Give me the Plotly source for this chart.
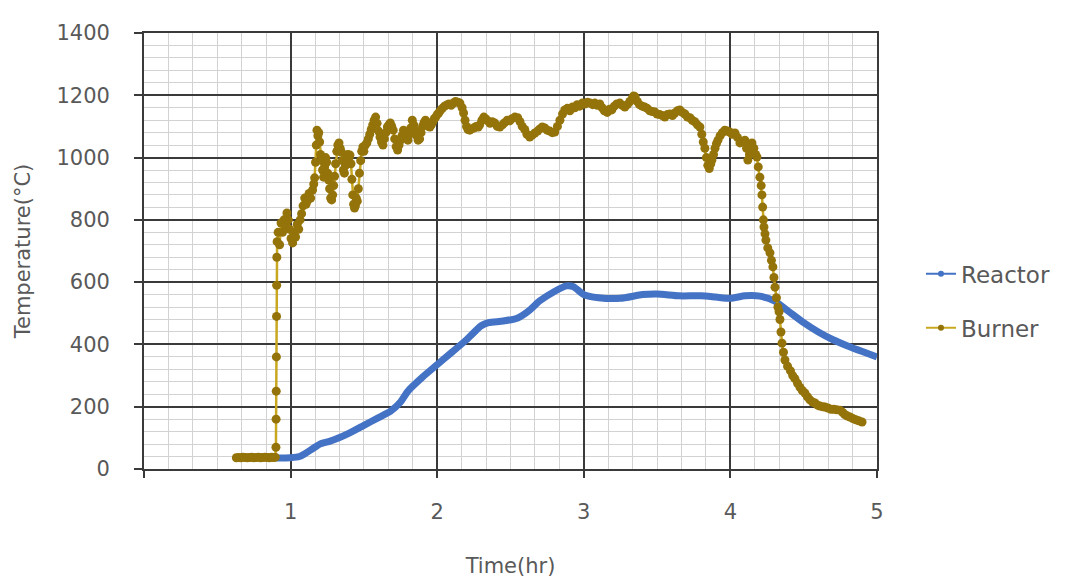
import plotly.graph_objects as go

# Reactor temperature (smooth profile)
reactor_time = [0.90, 1.00, 1.06, 1.10, 1.15, 1.20, 1.26, 1.33, 1.40, 1.50, 1.60, 1.68,
                1.75, 1.80, 1.90, 2.00, 2.10, 2.20, 2.30, 2.35, 2.45, 2.55, 2.63, 2.70,
                2.80, 2.88, 2.93, 3.00, 3.10, 3.25, 3.40, 3.50, 3.65, 3.80, 3.90, 4.00,
                4.10, 4.20, 4.30, 4.40, 4.50, 4.60, 4.70, 4.80, 4.90, 5.00]
reactor_temp = [35, 36, 40, 50, 65, 80, 88, 100, 115, 140, 165, 185,
                215, 250, 295, 335, 375, 415, 460, 470, 475, 485, 510, 540,
                570, 588, 585, 560, 550, 548, 560, 562, 556, 556, 552, 548,
                556, 555, 540, 505, 470, 440, 415, 395, 377, 360]

# Burner temperature (noisy logger readings)
burner_time = [
    0.630, 0.645, 0.660, 0.675, 0.690, 0.705, 0.720, 0.735, 0.750, 0.765, 0.780, 0.795,
    0.810, 0.825, 0.840, 0.855, 0.870, 0.885, 0.895,
    0.900, 0.901, 0.902, 0.903, 0.904, 0.905, 0.906, 0.908,
    0.915, 0.925, 0.935, 0.945, 0.955, 0.965, 0.975, 0.985, 0.993, 1.003, 1.014, 1.024,
    1.034, 1.045, 1.055, 1.065, 1.075, 1.085, 1.096, 1.105, 1.116, 1.126, 1.137, 1.150,
    1.158, 1.164, 1.170, 1.175, 1.180, 1.186, 1.192, 1.198, 1.204, 1.212, 1.218, 1.225,
    1.232, 1.239, 1.246, 1.253, 1.260, 1.266, 1.273, 1.280, 1.287, 1.294, 1.300, 1.307,
    1.315, 1.322, 1.330, 1.338, 1.346, 1.353, 1.360, 1.367, 1.375, 1.383, 1.390, 1.398,
    1.405, 1.412, 1.418, 1.424, 1.430, 1.436, 1.442, 1.448, 1.455, 1.462, 1.470, 1.478,
    1.485, 1.493, 1.500, 1.510, 1.520, 1.530, 1.540, 1.550, 1.560, 1.570, 1.580, 1.590,
    1.600, 1.610, 1.620, 1.630, 1.640, 1.650, 1.660, 1.670, 1.680, 1.690, 1.700, 1.710,
    1.720, 1.730, 1.740, 1.750, 1.760, 1.770, 1.780, 1.790, 1.800, 1.810, 1.820, 1.830,
    1.840, 1.850, 1.860, 1.870, 1.880, 1.890, 1.900, 1.910, 1.920, 1.930, 1.940, 1.950,
    1.960, 1.970, 1.980, 1.990, 2.000, 2.010, 2.020, 2.035, 2.050, 2.065, 2.080, 2.095,
    2.110, 2.125, 2.140, 2.155, 2.170, 2.180, 2.190, 2.200, 2.210, 2.222, 2.235, 2.250,
    2.265, 2.280, 2.290, 2.305, 2.318, 2.330, 2.345, 2.360, 2.375, 2.392, 2.410, 2.427,
    2.445, 2.460, 2.478, 2.495, 2.510, 2.530, 2.549, 2.565, 2.580, 2.597, 2.612, 2.631,
    2.648, 2.666, 2.685, 2.700, 2.717, 2.734, 2.750, 2.768, 2.785, 2.802, 2.820, 2.837,
    2.855, 2.870, 2.888, 2.905, 2.922, 2.939, 2.955, 2.972, 2.990, 3.007, 3.025, 3.042,
    3.060, 3.075, 3.092, 3.109, 3.125, 3.140, 3.160, 3.175, 3.191, 3.208, 3.225, 3.246,
    3.262, 3.280, 3.297, 3.314, 3.330, 3.340, 3.350, 3.365, 3.380, 3.398, 3.416, 3.432,
    3.450, 3.467, 3.485, 3.500, 3.518, 3.535, 3.553, 3.570, 3.587, 3.605, 3.621, 3.638,
    3.655, 3.672, 3.690, 3.707, 3.724, 3.740, 3.757, 3.775, 3.792, 3.805, 3.815, 3.826,
    3.836, 3.846, 3.856, 3.866, 3.874, 3.885, 3.895, 3.905, 3.915, 3.930, 3.945, 3.962,
    3.978, 3.995, 4.012, 4.031, 4.048, 4.065, 4.080, 4.099, 4.110, 4.119, 4.130, 4.140,
    4.147, 4.160, 4.172, 4.181, 4.190, 4.201, 4.210, 4.215, 4.220, 4.225, 4.229, 4.236,
    4.242, 4.255, 4.270, 4.280, 4.290, 4.297, 4.304, 4.314, 4.324, 4.332, 4.338, 4.345,
    4.352, 4.362, 4.372, 4.390, 4.410, 4.425, 4.440, 4.458, 4.475, 4.490, 4.508, 4.525,
    4.542, 4.560, 4.577, 4.595, 4.610, 4.630, 4.645, 4.665, 4.685, 4.705, 4.725, 4.747,
    4.765, 4.780, 4.798, 4.816, 4.835, 4.855, 4.875, 4.898]
burner_temp = [
    36, 37, 36, 38, 37, 36, 37, 38, 36, 37, 38, 36,
    37, 38, 37, 36, 38, 37, 38,
    70, 160, 250, 360, 490, 590, 680, 730,
    760, 720, 790, 760, 800, 780, 822, 800, 770, 740, 726, 760,
    745, 785, 770, 800, 820, 845, 870, 850, 862, 885, 870, 896,
    915, 935, 985, 1040, 1088, 1070, 1080, 1050, 1010, 990, 960, 937,
    970, 1000, 985, 950, 928, 900, 870, 864, 880, 910, 940, 980,
    1020, 1040, 1047, 1030, 1018, 990, 960, 950, 975, 1000, 1010, 1000,
    1008, 980, 930, 880, 850, 838, 845, 870, 860, 900, 950, 990,
    1020, 1034, 1020, 1040, 1047, 1060, 1075, 1090, 1105, 1120, 1130, 1110,
    1085, 1066, 1050, 1040, 1060, 1080, 1098, 1105, 1111, 1100, 1088, 1060,
    1035, 1024, 1040, 1056, 1070, 1088, 1078, 1070, 1056, 1075, 1095, 1120,
    1105, 1088, 1070, 1056, 1060, 1080, 1100, 1112, 1120, 1110, 1100, 1098,
    1105, 1115, 1125, 1130, 1138, 1143, 1150, 1158, 1165, 1169, 1172, 1168,
    1175, 1180, 1178, 1175, 1160, 1143, 1120, 1100, 1090, 1088, 1092, 1095,
    1100, 1098, 1105, 1120, 1130, 1125, 1118, 1110, 1115, 1111, 1100, 1098,
    1105, 1112, 1120, 1118, 1125, 1130, 1128, 1115, 1100, 1090, 1075, 1066,
    1072, 1079, 1085, 1092, 1098, 1095, 1088, 1085, 1080, 1082, 1100, 1120,
    1140, 1153, 1158, 1150, 1162, 1160, 1170, 1165, 1175, 1172, 1178, 1175,
    1170, 1175, 1168, 1172, 1160, 1150, 1145, 1155, 1153, 1165, 1172, 1175,
    1168, 1162, 1170, 1180, 1190, 1198, 1195, 1180, 1170, 1165, 1162, 1158,
    1150, 1148, 1146, 1140, 1138, 1135, 1130, 1138, 1140, 1135, 1143, 1150,
    1153, 1145, 1140, 1130, 1128, 1120, 1115, 1105, 1098, 1075, 1050, 1030,
    1000, 975, 965, 980, 992, 1010, 1030, 1045, 1056, 1070, 1080, 1088,
    1085, 1082, 1075, 1079, 1065, 1047, 1050, 1056, 1030, 992, 1010, 1040,
    1047, 1030, 1010, 1002, 970, 937, 910, 880, 841, 800, 777, 755,
    735, 710, 694, 670, 649, 615, 584, 550, 520, 505, 480, 440,
    404, 375, 350, 330, 315, 300, 290, 275, 262, 252, 244, 232,
    222, 215, 212, 205, 202, 200, 199, 196, 192, 192, 190, 189,
    182, 175, 170, 167, 162, 158, 155, 151]

x_tick_vals = [0, 1, 2, 3, 4, 5]
x_tick_text = ["", "1", "2", "3", "4", "5"]
y_tick_vals = [0, 200, 400, 600, 800, 1000, 1200, 1400]

REACTOR_BLUE = "#4472C4"
BURNER_DOT = "#94740A"
BURNER_LINE = "#C9A820"
TEXT_GRAY = "#595959"
MAJOR_GRID = "#3a3a3a"
MINOR_GRID = "#d2d2d2"
FONT = "DejaVu Sans"

fig = go.Figure()

fig.add_trace(go.Scatter(
    x=reactor_time, y=reactor_temp, mode="lines",
    line=dict(color=REACTOR_BLUE, width=7, shape="spline", smoothing=0.6),
    showlegend=False, hoverinfo="skip"))

fig.add_trace(go.Scatter(
    x=burner_time, y=burner_temp, mode="lines+markers",
    line=dict(color=BURNER_LINE, width=2.5),
    marker=dict(color=BURNER_DOT, size=9, line=dict(width=0)),
    showlegend=False, hoverinfo="skip"))

# Legend entries drawn with a thin line and a small marker
fig.add_trace(go.Scatter(
    x=[None], y=[None], mode="lines+markers", name="Reactor", legendgroup="r",
    line=dict(color=REACTOR_BLUE, width=2), marker=dict(color=REACTOR_BLUE, size=6)))
fig.add_trace(go.Scatter(
    x=[None], y=[None], mode="lines+markers", name="Burner", legendgroup="b",
    line=dict(color=BURNER_LINE, width=2), marker=dict(color=BURNER_DOT, size=6)))

fig.update_layout(
    width=1065, height=578,
    margin=dict(l=144, r=188, t=33, b=109, autoexpand=False),
    paper_bgcolor="white", plot_bgcolor="white",
    font=dict(family=FONT, size=20, color=TEXT_GRAY),
    legend=dict(x=1.06, y=0.497, xanchor="left", yanchor="top",
                tracegroupgap=21, font=dict(size=23, color=TEXT_GRAY),
                itemwidth=30, bgcolor="rgba(0,0,0,0)"),
)

fig.update_xaxes(
    range=[0, 5], tickvals=x_tick_vals, ticktext=x_tick_text, automargin=False,
    showgrid=True, gridcolor=MAJOR_GRID, gridwidth=1.8,
    showline=True, linecolor=MAJOR_GRID, linewidth=1.8, mirror=True,
    ticks="outside", ticklen=7, tickcolor=MAJOR_GRID, tickwidth=1.6,
    ticklabelstandoff=16, zeroline=False,
    tickfont=dict(size=21, color=TEXT_GRAY),
    minor=dict(dtick=1 / 6, tick0=0, showgrid=True, gridcolor=MINOR_GRID, gridwidth=1.2),
    title=dict(text="Time(hr)", font=dict(size=21, color=TEXT_GRAY), standoff=40),
)

fig.update_yaxes(
    range=[0, 1400], tickvals=y_tick_vals, automargin=False,
    showgrid=True, gridcolor=MAJOR_GRID, gridwidth=1.8,
    showline=True, linecolor=MAJOR_GRID, linewidth=1.8, mirror=True,
    ticks="outside", ticklen=8, tickcolor=MAJOR_GRID, tickwidth=1.6,
    ticklabelstandoff=20, zeroline=False,
    tickfont=dict(size=21, color=TEXT_GRAY),
    minor=dict(dtick=40, tick0=0, showgrid=True, gridcolor=MINOR_GRID, gridwidth=1.2),
    title=dict(text="Temperature(°C)", font=dict(size=21, color=TEXT_GRAY), standoff=20),
)

fig.write_html("out.html")
